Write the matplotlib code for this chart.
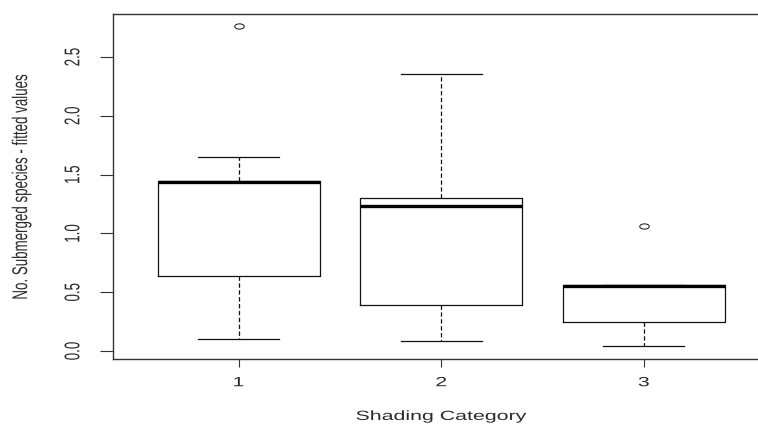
import numpy as np
import matplotlib.pyplot as plt
from matplotlib.markers import MarkerStyle
from matplotlib.transforms import Affine2D
from matplotlib.patheffects import AbstractPathEffect

# values
categories = ['1', '2', '3']
lower_whisker = [0.105, 0.088, 0.045]
q1 = [0.64, 0.39, 0.245]
medians = [1.437, 1.233, 0.553]
q3 = [1.445, 1.30, 0.558]
upper_whisker = [1.647, 2.355, 0.558]
outliers = [[2.765], [], [1.063]]

ytick_values = [0.0, 0.5, 1.0, 1.5, 2.0, 2.5]
ytick_labels = ['0.0', '0.5', '1.0', '1.5', '2.0', '2.5']

xlabel = 'Shading Category'
ylabel = 'No. Submerged species - fitted values'

plt.rcParams['font.family'] = ['Liberation Sans', 'DejaVu Sans']
text_size = 9.6
text_color = '#2a2a2a'
line_color = '#111111'


# the reference image is stretched sideways, so stretch the text the same way
class StretchX(AbstractPathEffect):
    def __init__(self, sx):
        super().__init__()
        self.sx = sx

    def draw_path(self, renderer, gc, tpath, affine, rgbFace=None):
        ext = tpath.get_extents(affine)
        cx = (ext.x0 + ext.x1) / 2
        stretch = Affine2D().translate(-cx, 0).scale(self.sx, 1).translate(cx, 0)
        renderer.draw_path(gc, tpath, affine + stretch, rgbFace)


stats = []
for i in range(len(categories)):
    stats.append(dict(label=categories[i], whislo=lower_whisker[i], q1=q1[i],
                      med=medians[i], q3=q3[i], whishi=upper_whisker[i],
                      fliers=outliers[i]))

fig = plt.figure(figsize=(7.58, 4.24), dpi=100)
ax = fig.add_axes([0.1491, 0.1533, 0.866, 0.8137])

circle = MarkerStyle('o', fillstyle='none', transform=Affine2D().scale(1.8, 1))
ax.bxp(stats, positions=[1, 2, 3], widths=0.8, capwidths=0.4,
       boxprops=dict(color=line_color, linewidth=0.9),
       whiskerprops=dict(color=line_color, linewidth=0.9, linestyle=(0, (3.5, 2))),
       capprops=dict(color=line_color, linewidth=0.9),
       medianprops=dict(color='black', linewidth=2.4),
       flierprops=dict(marker=circle, markersize=3.8, markeredgecolor=line_color,
                       markeredgewidth=0.7, linestyle='none'))

ax.set_xlim(0.38, 3.62)
ax.set_ylim(-0.068, 2.866)
ax.set_xticks([1, 2, 3], categories)
ax.set_yticks(ytick_values, ytick_labels)

for s in ax.spines.values():
    s.set_color('#333333')
    s.set_linewidth(1.0)

ax.tick_params(axis='x', length=6.1, width=0.8, pad=7, colors='#333333',
               labelsize=text_size, labelcolor=text_color)
ax.tick_params(axis='y', length=9.4, width=0.8, pad=19, colors='#333333',
               labelsize=text_size, labelcolor=text_color, labelrotation=90)
plt.setp(ax.get_yticklabels(), ha='center', va='center')

ax.set_xlabel(xlabel, fontsize=text_size, color=text_color, va='center')
ax.set_ylabel(ylabel, fontsize=text_size, color=text_color, va='center')
ax.xaxis.set_label_coords(0.5, -0.168)
ax.yaxis.set_label_coords(-0.1386, 0.5)

for t in ax.get_xticklabels() + ax.get_yticklabels() + [ax.xaxis.label, ax.yaxis.label]:
    t.set_path_effects([StretchX(1.6)])

fig.savefig('out.png', dpi=100)
